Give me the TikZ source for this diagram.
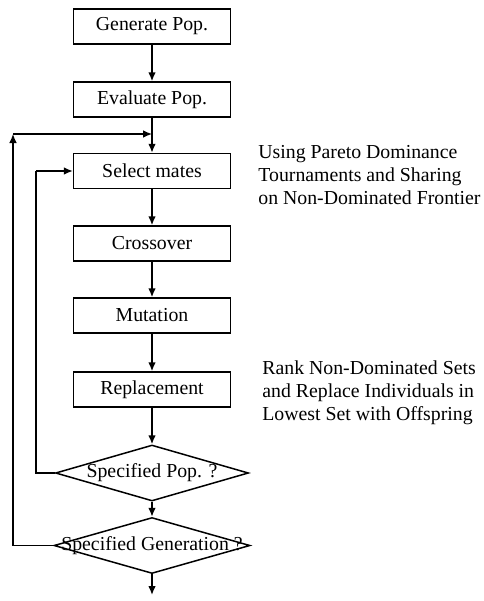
\documentclass[tikz,border=0pt]{standalone}
\usepackage{fontspec}
\setmainfont{Liberation Serif}
\usetikzlibrary{shapes.geometric,arrows.meta}
\newcommand{\widthbox}{78.5pt}
\newcommand{\heightbox}{17.5pt}
\tikzset{
    common/.style={draw, line width=0.75pt, inner sep=0pt},
    stepbox/.style={common, rectangle, minimum width=\widthbox, minimum height=\heightbox},
    decision/.style={common, diamond, minimum width=96.5pt, minimum height=28pt},
    note/.style={anchor=west, align=left, inner sep=0pt},
    flow/.style={line width=0.75pt, -{Latex[length=4.5pt,width=3.8pt]}},
    back/.style={line width=0.6pt}
}
\begin{document}
\begin{tikzpicture}[x=0.5pt, y=-0.5pt, font=\fontsize{9.9pt}{11.6pt}\selectfont]
            \useasboundingbox (0,0) rectangle (483,601);
            \path
                node[stepbox] (genpop) at (152,26.5) {Generate Pop.}
                node[stepbox] (evalpop) at (152,99.5) {Evaluate Pop.}
                node[stepbox] (select) at (152,171) {Select mates}
                node[stepbox] (cross) at (152,243.5) {Crossover}
                node[stepbox] (mutate) at (152,315.5) {Mutation}
                node[stepbox] (replace) at (152,389.5) {Replacement}
                node[decision, label=center:{Specified Pop. ?}] (specpop) at (152,473) {}
                node[decision, minimum width=98pt, label=center:{Specified Generation ?}] (specgen) at (152,545.5) {};

            \node[note] (selnote) at (258,175) {Using Pareto Dominance\\Tournaments and Sharing\\on Non-Dominated Frontier};
            \node[note] (repnote) at (262,393) {Rank Non-Dominated Sets\\and Replace Individuals in\\Lowest Set with Offspring};

            \foreach \a/\b in {genpop/evalpop, evalpop/select, select/cross, cross/mutate, mutate/replace, replace/specpop, specpop/specgen}
                \draw[flow] (\a) -- (\b);
            \coordinate (done) at (152,595);
            \draw[flow] (specgen) -- (done);

            % loops back
            \coordinate (inner) at (36,171);
            \draw[back] (specpop.west) -| (inner);
            \draw[flow, back] (inner) -- (select.west);
            \coordinate (outer) at (13,134);
            \draw[flow, back] (specgen.west) -| (outer);
            \draw[flow, back] (outer) -- (outer -| select.north);
        \end{tikzpicture}
\end{document}
